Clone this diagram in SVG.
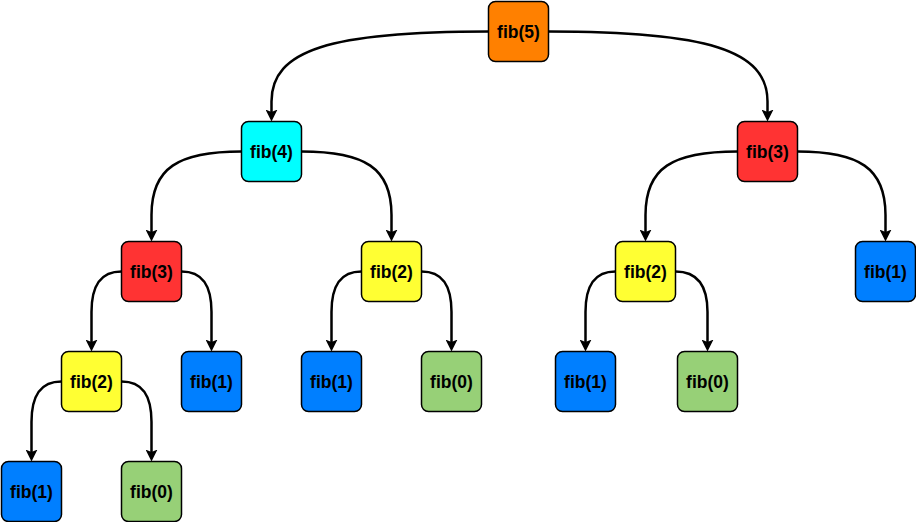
<svg xmlns="http://www.w3.org/2000/svg" width="916" height="522" viewBox="0 0 916 522">
<style>
.n rect{stroke:#000;stroke-width:1.5}
.n text{font-family:"Liberation Sans",Arial,sans-serif;font-weight:bold;font-size:17.5px;fill:#000;text-anchor:middle;dominant-baseline:central}
.e path{fill:none;stroke:#000;stroke-width:2.5;marker-end:url(#arr)}
.o{fill:#FF8000}.c{fill:#00FFFF}.r{fill:#FF3333}.y{fill:#FFFF33}.b{fill:#007FFF}.g{fill:#97D077}
</style>
<defs>
<marker id="arr" markerUnits="userSpaceOnUse" markerWidth="12" markerHeight="12" refX="4" refY="6" orient="auto">
<path d="M0,0 L12,6 L0,12 L2.5,6 z" fill="#000"/>
</marker>
</defs>
<rect width="916" height="522" fill="#fff"/>
<g class="e" id="edges">
<path d="M488.5,31.5 C330,31.5 271.5,50 271.5,101.5 L271.5,113.5"/>
<path d="M548.5,31.5 C707,31.5 767.5,50 767.5,101.5 L767.5,113.5"/>
<path d="M241.5,151.5 C178,151.5 151.5,168 151.5,215 L151.5,233.5"/>
<path d="M301.5,151.5 C365,151.5 391.5,168 391.5,215 L391.5,233.5"/>
<path d="M737.5,151.5 C672,151.5 645.5,168 645.5,215 L645.5,233.5"/>
<path d="M797.5,151.5 C859,151.5 885.5,168 885.5,215 L885.5,233.5"/>
<path d="M121.5,271.5 C100,271.5 91.5,286 91.5,312 L91.5,343.5"/>
<path d="M181.5,271.5 C203,271.5 211.5,286 211.5,312 L211.5,343.5"/>
<path d="M361.5,271.5 C340,271.5 331.5,286 331.5,312 L331.5,343.5"/>
<path d="M421.5,271.5 C443,271.5 451.5,286 451.5,312 L451.5,343.5"/>
<path d="M615.5,271.5 C594,271.5 585.5,286 585.5,312 L585.5,343.5"/>
<path d="M675.5,271.5 C698,271.5 707.5,286 707.5,312 L707.5,343.5"/>
<path d="M61.5,381.5 C40,381.5 31.5,396 31.5,422 L31.5,453.5"/>
<path d="M121.5,381.5 C143,381.5 151.5,396 151.5,422 L151.5,453.5"/>
</g>
<g class="n" id="n5"><rect class="o" x="488.5" y="1.5" width="60" height="60" rx="7"/><text x="518.5" y="31.5">fib(5)</text></g>
<g class="n" id="n4"><rect class="c" x="241.5" y="121.5" width="60" height="60" rx="7"/><text x="271.5" y="151.5">fib(4)</text></g>
<g class="n" id="n3r"><rect class="r" x="737.5" y="121.5" width="60" height="60" rx="7"/><text x="767.5" y="151.5">fib(3)</text></g>
<g class="n" id="n3l"><rect class="r" x="121.5" y="241.5" width="60" height="60" rx="7"/><text x="151.5" y="271.5">fib(3)</text></g>
<g class="n" id="n2m"><rect class="y" x="361.5" y="241.5" width="60" height="60" rx="7"/><text x="391.5" y="271.5">fib(2)</text></g>
<g class="n" id="n2r"><rect class="y" x="615.5" y="241.5" width="60" height="60" rx="7"/><text x="645.5" y="271.5">fib(2)</text></g>
<g class="n" id="n1r"><rect class="b" x="855.5" y="241.5" width="60" height="60" rx="7"/><text x="885.5" y="271.5">fib(1)</text></g>
<g class="n" id="n2l"><rect class="y" x="61.5" y="351.5" width="60" height="60" rx="7"/><text x="91.5" y="381.5">fib(2)</text></g>
<g class="n" id="n1a"><rect class="b" x="181.5" y="351.5" width="60" height="60" rx="7"/><text x="211.5" y="381.5">fib(1)</text></g>
<g class="n" id="n1b"><rect class="b" x="301.5" y="351.5" width="60" height="60" rx="7"/><text x="331.5" y="381.5">fib(1)</text></g>
<g class="n" id="n0b"><rect class="g" x="421.5" y="351.5" width="60" height="60" rx="7"/><text x="451.5" y="381.5">fib(0)</text></g>
<g class="n" id="n1c"><rect class="b" x="555.5" y="351.5" width="60" height="60" rx="7"/><text x="585.5" y="381.5">fib(1)</text></g>
<g class="n" id="n0c"><rect class="g" x="677.5" y="351.5" width="60" height="60" rx="7"/><text x="707.5" y="381.5">fib(0)</text></g>
<g class="n" id="n1d"><rect class="b" x="1.5" y="461.5" width="60" height="60" rx="7"/><text x="31.5" y="491.5">fib(1)</text></g>
<g class="n" id="n0d"><rect class="g" x="121.5" y="461.5" width="60" height="60" rx="7"/><text x="151.5" y="491.5">fib(0)</text></g>
</svg>
